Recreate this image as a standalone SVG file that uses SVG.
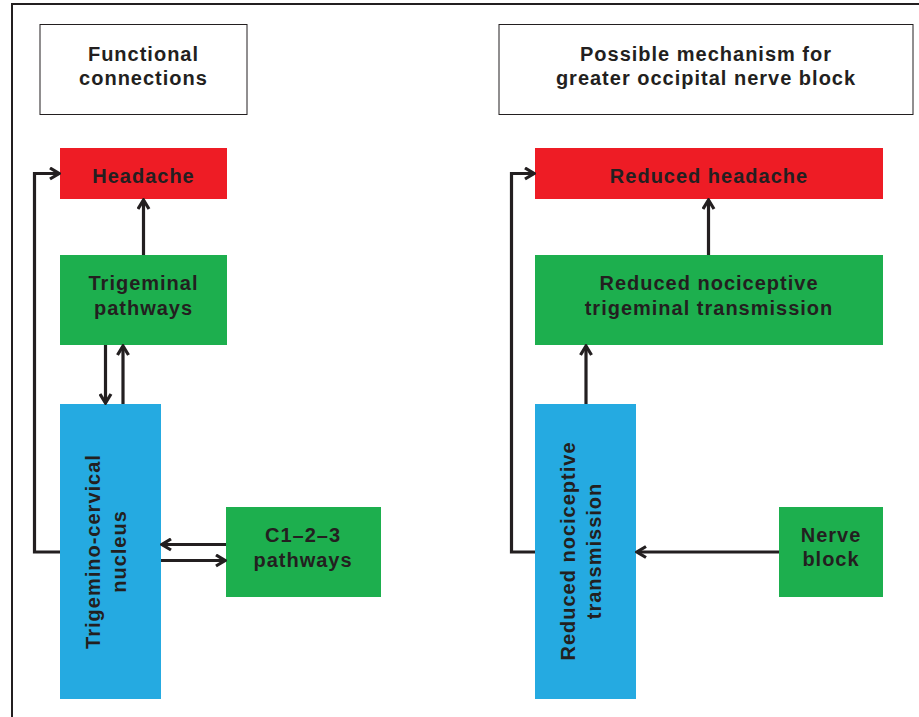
<svg xmlns="http://www.w3.org/2000/svg" width="919" height="717" viewBox="0 0 919 717">
<defs>
<marker id="ah" viewBox="0 0 14 14" refX="12" refY="7" markerWidth="14" markerHeight="14" markerUnits="userSpaceOnUse" orient="auto">
<path d="M3,1.5 L12,7 L3,12.5" fill="none" stroke="#231F20" stroke-width="3.2"/>
</marker>
<style>
.t{font-family:"Liberation Sans",Arial,sans-serif;font-weight:bold;font-size:20px;fill:#231F20;text-anchor:middle;letter-spacing:1px}
.h{fill:#fff;stroke:#231F20;stroke-width:1}
.red{fill:#EE1C25}
.green{fill:#1DAF4E}
.blue{fill:#25AAE1}
.a{fill:none;stroke:#231F20;stroke-width:3.2;marker-end:url(#ah)}
</style>
</defs>
<rect width="919" height="717" fill="#fff"/>
<path d="M12,717 V4 H919" fill="none" stroke="#231F20" stroke-width="2"/>

<g id="hdr-left">
<rect class="h" x="40" y="24.5" width="207" height="90"/>
<text class="t" x="143.5" y="61">Functional</text>
<text class="t" x="143.5" y="85">connections</text>
</g>
<g id="hdr-right">
<rect class="h" x="499" y="24.5" width="414" height="90"/>
<text class="t" x="706" y="61">Possible mechanism for</text>
<text class="t" x="706" y="85">greater occipital nerve block</text>
</g>

<g id="headache">
<rect class="red" x="60" y="148" width="167" height="51"/>
<text class="t" x="143.5" y="183">Headache</text>
</g>
<g id="trigeminal">
<rect class="green" x="60" y="255" width="167" height="90"/>
<text class="t" x="143.5" y="290">Trigeminal</text>
<text class="t" x="143.5" y="315">pathways</text>
</g>
<g id="tcn">
<rect class="blue" x="60" y="404" width="101" height="295"/>
<text class="t" transform="translate(100,551.5) rotate(-90)">Trigemino-cervical</text>
<text class="t" transform="translate(126,551.5) rotate(-90)">nucleus</text>
</g>
<g id="c123">
<rect class="green" x="226" y="507" width="155" height="90"/>
<text class="t" x="303" y="542">C1–2–3</text>
<text class="t" x="303" y="567">pathways</text>
</g>

<g id="reduced-headache">
<rect class="red" x="535" y="148" width="348" height="51"/>
<text class="t" x="709" y="183">Reduced headache</text>
</g>
<g id="reduced-trigeminal">
<rect class="green" x="535" y="255" width="348" height="90"/>
<text class="t" x="709" y="290">Reduced nociceptive</text>
<text class="t" x="709" y="315">trigeminal transmission</text>
</g>
<g id="reduced-transmission">
<rect class="blue" x="535" y="404" width="101" height="295"/>
<text class="t" transform="translate(575,551) rotate(-90)">Reduced nociceptive</text>
<text class="t" transform="translate(601,551) rotate(-90)">transmission</text>
</g>
<g id="nerve-block">
<rect class="green" x="779" y="507" width="104" height="90"/>
<text class="t" x="831" y="542">Nerve</text>
<text class="t" x="831" y="566">block</text>
</g>

<g id="connectors">
<path class="a" d="M143.5,255 V200"/>
<path class="a" d="M105.5,345 V403"/>
<path class="a" d="M123,404 V346"/>
<path class="a" d="M60,552 H34.5 V173.5 H59"/>
<path class="a" d="M226,544.5 H162"/>
<path class="a" d="M161,560.5 H225"/>
<path class="a" d="M708.5,255 V200"/>
<path class="a" d="M586,404 V346"/>
<path class="a" d="M535,552 H511.5 V173.5 H534"/>
<path class="a" d="M779,552 H637"/>
</g>
</svg>
